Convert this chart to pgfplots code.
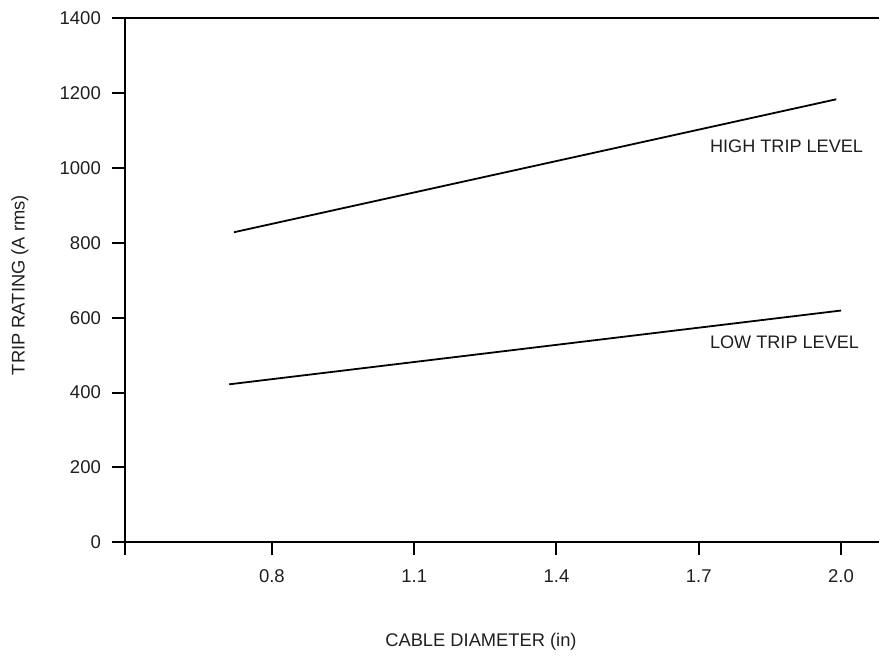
\documentclass[border=0pt]{standalone}
\usepackage{fontspec}
\setmainfont{Liberation Sans}
\usepackage{pgfplots}
\pgfplotsset{compat=1.18}

\definecolor{ink}{gray}{0.12}

\begin{document}
\begin{tikzpicture}
% page frame: 880x653 px at 0.5bp per px
\path (0,0) rectangle (440bp,326.5bp);
\begin{axis}[
    at={(62.5bp,55bp)}, anchor=south west,
    scale only axis, width=377.5bp, height=262.5bp,
    xmin=0.49, xmax=2.08, ymin=0, ymax=1400,
    axis x line*=box, axis y line*=left,
    axis line style={-, line width=1bp, black},
    xtick={0.49,0.8,1.1,1.4,1.7,2.0},
    xticklabels={,0.8,1.1,1.4,1.7,2.0},
    ytick={0,200,...,1400},
    xtick pos=bottom, ytick pos=left,
    tick align=outside, major tick length=6.5bp,
    tick style={line width=1bp, black},
    /pgf/number format/assume math mode=true,
    /pgf/number format/1000 sep={},
    every tick label/.append style={font=\fontsize{9.3}{11}\selectfont, text=ink},
    xticklabel style={yshift=-3.5bp},
    yticklabel style={xshift=-2bp},
    label style={font=\fontsize{9.2}{11}\selectfont, text=ink},
    xlabel={CABLE DIAMETER (in)},
    ylabel={TRIP RATING (A rms)},
    xlabel style={at={(axis description cs:0.4722,-0.1886)}, anchor=center},
    ylabel style={at={(axis description cs:-0.1391,0.4905)}, anchor=center},
    clip=false,
]
\addplot[line width=0.9bp, black] coordinates {(0.72,828) (1.99,1183)};
\addplot[line width=0.9bp, black] coordinates {(0.71,422) (2.00,619)};
\node[anchor=west, inner sep=0pt, text=ink, font=\fontsize{9.1}{11}\selectfont]
    at (axis cs:1.723,1058) {HIGH TRIP LEVEL};
\node[anchor=west, inner sep=0pt, text=ink, font=\fontsize{9.1}{11}\selectfont]
    at (axis cs:1.723,535) {LOW TRIP LEVEL};
\end{axis}
\end{tikzpicture}
\end{document}
